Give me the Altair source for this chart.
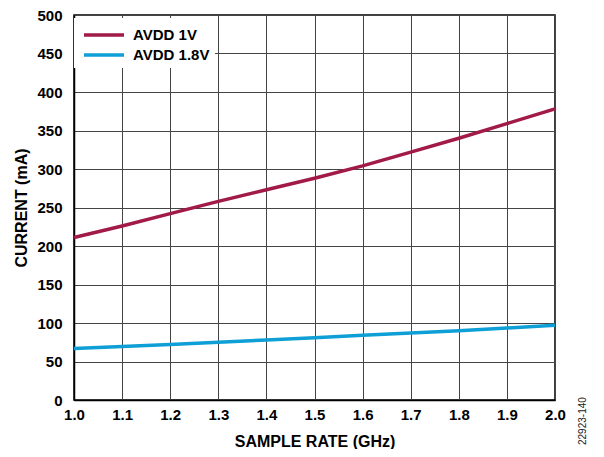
import altair as alt
import pandas as pd

rate = [1.0, 1.1, 1.2, 1.3, 1.4, 1.5, 1.6, 1.7, 1.8, 1.9, 2.0]
avdd_1v = [211, 226, 242, 258, 273, 288, 304, 322, 340, 359, 378]
avdd_18v = [67, 69.5, 72, 75, 78, 81, 84, 87, 90, 93.5, 97]
series = ["AVDD 1V", "AVDD 1.8V"]
colors = ["#A21A48", "#0E9FD6"]

rows = []
for r, a, b in zip(rate, avdd_1v, avdd_18v):
    rows.append({"rate": r, "current": a, "series": series[0]})
    rows.append({"rate": r, "current": b, "series": series[1]})
df = pd.DataFrame(rows)

W, H = 481, 385
FONT = "Liberation Sans"

lines = alt.Chart(df).mark_line(strokeWidth=3.5).encode(
    x=alt.X("rate:Q",
            scale=alt.Scale(domain=[1.0, 2.0], nice=False),
            axis=alt.Axis(title="SAMPLE RATE (GHz)", values=rate, format=".1f",
                          labelOverlap=False)),
    y=alt.Y("current:Q",
            scale=alt.Scale(domain=[0, 500], nice=False),
            axis=alt.Axis(title="CURRENT (mA)", values=list(range(0, 501, 50)),
                          labelOverlap=False)),
    color=alt.Color("series:N",
                    scale=alt.Scale(domain=series, range=colors),
                    sort=series,
                    legend=alt.Legend(title=None, orient="none", legendX=0, legendY=3,
                                      fillColor="white", padding=5,
                                      symbolType="M-2,0L2,0", symbolSize=400,
                                      symbolOffset=13,
                                      symbolStrokeWidth=3.5, labelFontSize=15,
                                      labelFont=FONT, labelFontWeight="bold",
                                      labelColor="black", rowPadding=0,
                                      labelOffset=17)),
)

note = alt.Chart(pd.DataFrame({"t": ["22923-140"]})).mark_text(
    angle=270, fontSize=10, font=FONT, color="#222", align="left", baseline="middle"
).encode(x=alt.value(W + 28), y=alt.value(H + 45), text="t:N")

chart = alt.layer(lines, note).properties(
    width=W, height=H,
    autosize=alt.AutoSizeParams(type="none"),
    padding={"left": 66, "top": 7, "right": 41, "bottom": 49},
).configure_view(stroke="black", strokeWidth=1.5).configure_axis(
    grid=True, gridColor="#444", gridWidth=1, ticks=False,
    domainColor="black", domainWidth=1.5,
    labelFont=FONT, labelFontWeight="bold", labelFontSize=15, labelColor="black",
    titleFont=FONT, titleFontWeight="bold", titleFontSize=16, titleColor="black",
).configure_axisY(labelPadding=12, titlePadding=7).configure_axisX(
    labelPadding=7, titlePadding=11, labelFlush=False)

chart.save("out.html", embed_options={"renderer": "svg", "actions": False})
